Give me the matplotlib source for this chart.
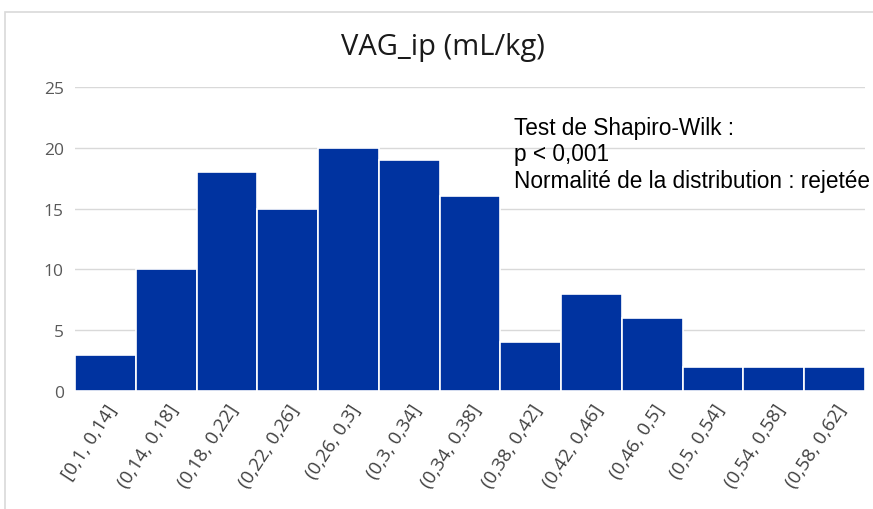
import matplotlib
matplotlib.use("Agg")
import matplotlib.pyplot as plt
from matplotlib.patches import Rectangle

categories = ["[0,1, 0,14]", "(0,14, 0,18]", "(0,18, 0,22]", "(0,22, 0,26]", "(0,26, 0,3]",
              "(0,3, 0,34]", "(0,34, 0,38]", "(0,38, 0,42]", "(0,42, 0,46]", "(0,46, 0,5]",
              "(0,5, 0,54]", "(0,54, 0,58]", "(0,58, 0,62]"]
counts = [3, 10, 18, 15, 20, 19, 16, 4, 8, 6, 2, 2, 2]
yticks = [0, 5, 10, 15, 20, 25]

fig = plt.figure(figsize=(8.73, 5.10), dpi=100)
fig.patches.append(Rectangle((5/873, -0.1), 1.1, 1 - 13/510 + 0.1, transform=fig.transFigure,
                             fill=False, edgecolor="#d9d9d9", linewidth=1.2))
ax = fig.add_axes([75/873, 1 - 392/510, (865 - 75)/873, (392 - 88)/510])
x = list(range(len(categories)))
ax.bar(x, counts, width=1.0, color="#0033A0", edgecolor="white", linewidth=1.2, zorder=3)
ax.set_xlim(-0.5, len(categories) - 0.5)
ax.set_ylim(0, 25)
ax.set_yticks(yticks)
ax.set_yticklabels([str(v) for v in yticks], fontsize=12.5, color="#595959", family="Open Sans")
ax.set_xticks(x)
ax.set_xticklabels(categories, rotation=57, ha="right", rotation_mode="anchor",
                   fontsize=13.5, color="#404040", family="Open Sans")
ax.tick_params(axis="both", length=0, pad=8)
ax.tick_params(axis="x", pad=7)
ax.grid(axis="y", color="#d9d9d9", linewidth=1, zorder=0)
for s in ax.spines.values():
    s.set_visible(False)
fig.text(443/873, 1 - 48/510, "VAG_ip (mL/kg)", ha="center", va="center", fontsize=21,
         family="Open Sans", color="#1a1a1a")
ax.text(0.556, 0.905, "Test de Shapiro-Wilk :\np < 0,001\nNormalité de la distribution : rejetée",
        transform=ax.transAxes, ha="left", va="top", fontsize=16.3, family="Liberation Sans",
        color="black", linespacing=1.2, zorder=5)
fig.savefig("out.png", dpi=100, facecolor="white")
